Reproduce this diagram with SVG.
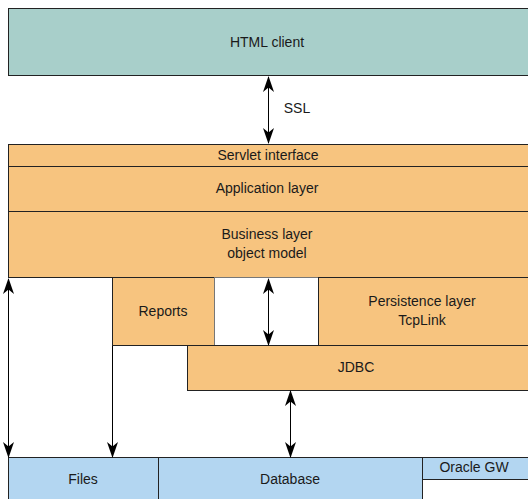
<svg xmlns="http://www.w3.org/2000/svg" width="528" height="499" viewBox="0 0 528 499">
<defs>
<style>
text{font-family:"Liberation Sans",Arial,sans-serif;font-size:14px;fill:#1a1a1a;text-anchor:middle}
.o{fill:#f7c47f;stroke:#222;stroke-width:1}
.b{fill:#b3d6f1;stroke:#222;stroke-width:1}
.t{fill:#a8cfca;stroke:#222;stroke-width:1}
.c{stroke:#000;stroke-width:1;fill:none}
</style>
<marker id="ah" viewBox="0 0 16 11" refX="15" refY="5.5" markerWidth="16" markerHeight="11" markerUnits="userSpaceOnUse" orient="auto-start-reverse">
<path d="M0,0 L16,5.5 L0,11 L4.5,5.5 Z" fill="#000"/>
</marker>
</defs>
<rect width="528" height="499" fill="#fff"/>
<g id="html-client"><rect class="t" x="8.5" y="8.5" width="530" height="67"/><text x="267" y="47">HTML client</text></g>
<g id="servlet"><rect class="o" x="8.5" y="144.5" width="530" height="22"/><text x="268" y="159.5">Servlet interface</text></g>
<g id="application"><rect class="o" x="8.5" y="166.5" width="530" height="45"/><text x="267" y="193">Application layer</text></g>
<g id="business"><rect class="o" x="8.5" y="211.5" width="530" height="66"/><text x="267" y="239">Business layer</text><text x="267" y="258">object model</text></g>
<g id="reports"><rect class="o" x="112.5" y="277.5" width="102" height="68"/><text x="163" y="316">Reports</text></g>
<g id="gap"><rect x="214.5" y="277.5" width="104" height="68" fill="#fff" stroke="#777"/></g>
<g id="persistence"><rect class="o" x="318.5" y="277.5" width="220" height="68"/><text x="422" y="306">Persistence layer</text><text x="422" y="325">TcpLink</text></g>
<g id="jdbc"><rect class="o" x="187.5" y="345.5" width="351" height="45"/><text x="356" y="372">JDBC</text></g>
<g id="files"><rect class="b" x="8.5" y="457.5" width="150" height="50"/><text x="83" y="484">Files</text></g>
<g id="database"><rect class="b" x="158.5" y="457.5" width="264" height="50"/><text x="290" y="484">Database</text></g>
<g id="oracle"><rect class="b" x="422.5" y="457.5" width="116" height="22"/><text x="474" y="472">Oracle GW</text></g>
<g id="connectors">
<line class="c" x1="268.5" y1="77" x2="268.5" y2="143" marker-start="url(#ah)" marker-end="url(#ah)"/>
<text x="297" y="113">SSL</text>
<line class="c" x1="268.5" y1="279" x2="268.5" y2="345" marker-start="url(#ah)" marker-end="url(#ah)"/>
<line class="c" x1="290.5" y1="391" x2="290.5" y2="457" marker-start="url(#ah)" marker-end="url(#ah)"/>
<line class="c" x1="8.5" y1="279" x2="8.5" y2="457" marker-start="url(#ah)" marker-end="url(#ah)"/>
<line class="c" x1="112.5" y1="346" x2="112.5" y2="457" marker-end="url(#ah)"/>
</g>
</svg>
